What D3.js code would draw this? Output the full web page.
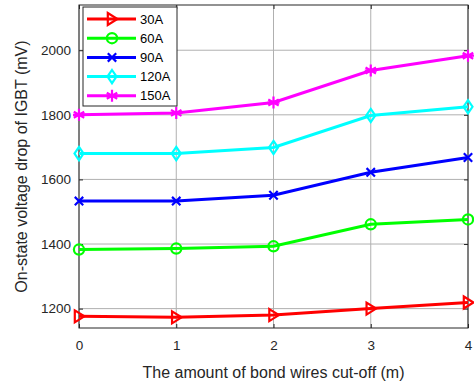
<!DOCTYPE html>
<html><head><meta charset="utf-8">
<script src="https://cdn.jsdelivr.net/npm/d3@7"></script>
<style>body{margin:0;background:#fff;}svg{display:block;font-family:"Liberation Sans",Arial,sans-serif;}</style>
</head><body><svg id="c" width="474" height="385"></svg>
<script>
const xValues = [0, 1, 2, 3, 4];
const seriesNames = ["30A", "60A", "90A", "120A", "150A"];
const s30 = [1176, 1173, 1180, 1200, 1219];
const s60 = [1383, 1386, 1393, 1461, 1476];
const s90 = [1533, 1533, 1551, 1622, 1668];
const s120 = [1680, 1680, 1699, 1798, 1825];
const s150 = [1800, 1806, 1838, 1937, 1983];
const yTicks = [1200, 1400, 1600, 1800, 2000];
const xTicks = [0, 1, 2, 3, 4];
const xLabel = "The amount of bond wires cut-off (m)";
const yLabel = "On-state voltage drop of IGBT (mV)";

const colors = ["#ff0000", "#00ff00", "#0000ff", "#00ffff", "#ff00ff"];
const markers = ["tri", "circle", "x", "diamond", "star"];
const series = [s30, s60, s90, s120, s150];

const svg = d3.select("#c");
const L = 79, R = 468, T = 5, B = 328;
const x = d3.scaleLinear().domain([0, 4]).range([L, R]);
const y = d3.scaleLinear().domain([1140, 2140]).range([B, T]);

// grid
const g = svg.append("g");
g.selectAll(".gx").data(xTicks).enter().append("line")
  .attr("x1", d => x(d)).attr("x2", d => x(d)).attr("y1", T).attr("y2", B)
  .attr("stroke", "#b0b0b0").attr("stroke-width", 1);
g.selectAll(".gy").data(yTicks).enter().append("line")
  .attr("y1", d => y(d)).attr("y2", d => y(d)).attr("x1", L).attr("x2", R)
  .attr("stroke", "#b0b0b0").attr("stroke-width", 1);

// axes with inward ticks
svg.append("g").attr("transform", `translate(0,${B})`)
  .call(d3.axisBottom(x).tickValues(xTicks).tickSize(-4).tickPadding(12).tickFormat(d3.format("d")));
svg.append("g").attr("transform", `translate(${L},0)`)
  .call(d3.axisLeft(y).tickValues(yTicks).tickSize(-4).tickPadding(8).tickFormat(d3.format("d")));
svg.append("g").attr("transform", `translate(0,${T})`)
  .call(d3.axisTop(x).tickValues(xTicks).tickSize(-4).tickFormat(""));
svg.append("g").attr("transform", `translate(${R},0)`)
  .call(d3.axisRight(y).tickValues(yTicks).tickSize(-4).tickFormat(""));
svg.selectAll(".domain").remove();
svg.selectAll(".tick line").attr("stroke", "#262626");
svg.selectAll(".tick text").attr("fill", "#262626").style("font-size", "13.5px").style("font-family", "'Liberation Sans',Arial,sans-serif");
svg.append("rect").attr("x", L).attr("y", T).attr("width", R - L).attr("height", B - T)
  .attr("fill", "none").attr("stroke", "#262626").attr("stroke-width", 1);

function drawMarker(sel, type, color, s) {
  let el;
  if (type === "tri") {
    el = sel.append("path").attr("d", `M${-s*0.7},${-s} L${s*0.9},0 L${-s*0.7},${s} Z`);
  } else if (type === "circle") {
    el = sel.append("circle").attr("r", s*0.85);
  } else if (type === "x") {
    el = sel.append("path").attr("d", `M${-s*0.7},${-s*0.7}L${s*0.7},${s*0.7}M${-s*0.7},${s*0.7}L${s*0.7},${-s*0.7}`);
  } else if (type === "diamond") {
    el = sel.append("path").attr("d", `M0,${-s*1.1}L${s*0.75},0L0,${s*1.1}L${-s*0.75},0Z`);
  } else {
    el = sel.append("path").attr("d", `M0,${-s}L0,${s}M${-s*0.87},${-s*0.5}L${s*0.87},${s*0.5}M${-s*0.87},${s*0.5}L${s*0.87},${-s*0.5}M${-s},0L${s},0`);
  }
  el.attr("stroke", color).attr("stroke-width", 2.2).attr("fill", "none");
}

const line = d3.line().x((d, i) => x(xValues[i])).y(d => y(d));
series.forEach((vals, si) => {
  svg.append("path").datum(vals).attr("d", line)
    .attr("fill", "none").attr("stroke", colors[si]).attr("stroke-width", 3);
  vals.forEach((v, i) => {
    const m = svg.append("g").attr("transform", `translate(${x(xValues[i])},${y(v)})`);
    drawMarker(m, markers[si], colors[si], 6);
  });
});

// legend
const lg = svg.append("g");
lg.append("rect").attr("x", 83).attr("y", 7).attr("width", 94).attr("height", 99)
  .attr("fill", "#fff").attr("stroke", "#262626").attr("stroke-width", 1);
seriesNames.forEach((n, i) => {
  const yy = 19 + i * 19.2;
  lg.append("line").attr("x1", 87).attr("x2", 136).attr("y1", yy).attr("y2", yy)
    .attr("stroke", colors[i]).attr("stroke-width", 3);
  const m = lg.append("g").attr("transform", `translate(112,${yy})`);
  drawMarker(m, markers[i], colors[i], 6);
  lg.append("text").attr("x", 140).attr("y", yy + 4.5).text(n)
    .attr("fill", "#000").style("font-size", "13px");
});

// labels
svg.append("text").attr("x", (L + R) / 2).attr("y", 378).attr("text-anchor", "middle")
  .style("font-size", "16px").attr("fill", "#262626").text(xLabel);
svg.append("text").attr("transform", `translate(27,${(T + B) / 2}) rotate(-90)`)
  .attr("text-anchor", "middle").style("font-size", "16px").attr("fill", "#262626").text(yLabel);
</script></body></html>
